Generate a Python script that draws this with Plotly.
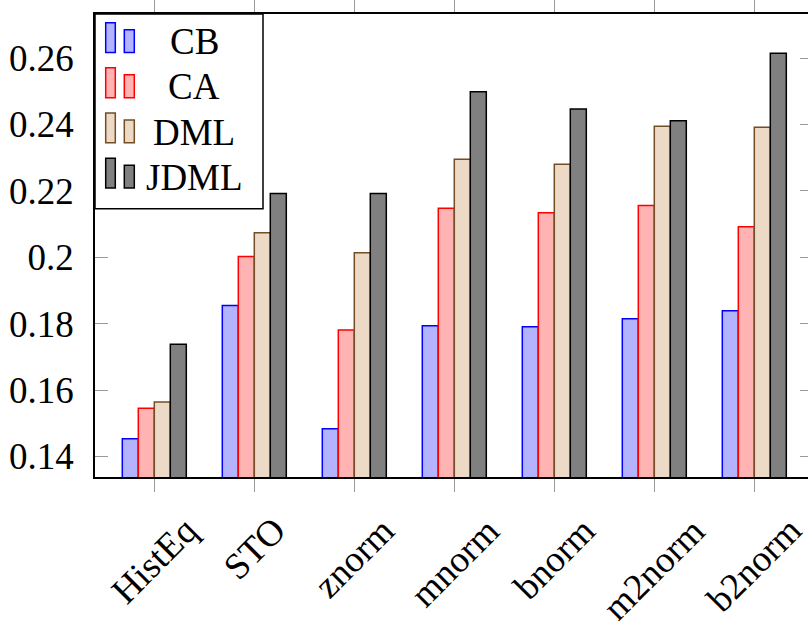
import plotly.graph_objects as go

# Normalisation methods on the x axis and the four compared approaches
methods = ["HistEq", "STO", "znorm", "mnorm", "bnorm", "m2norm", "b2norm"]
cb = [0.1453, 0.1855, 0.1483, 0.1794, 0.1791, 0.1815, 0.1839]
ca = [0.1545, 0.2002, 0.1781, 0.2148, 0.2134, 0.2156, 0.2092]
dml = [0.1564, 0.2074, 0.2014, 0.2295, 0.2280, 0.2395, 0.2392]
jdml = [0.1738, 0.2192, 0.2192, 0.2499, 0.2447, 0.2411, 0.2615]

series_names = ["CB", "CA", "DML", "JDML"]
y_ticks = [0.14, 0.16, 0.18, 0.20, 0.22, 0.24, 0.26]
y_tick_text = ["0.14", "0.16", "0.18", "0.2", "0.22", "0.24", "0.26"]

FONT = "Liberation Serif, serif"
FS = 37

W, H = 808, 621
L, T, R, B = 95, 14, 808, 477.3  # plot area in pixels

styles = [
    dict(fill="#b3b3ff", line="#0000ff"),
    dict(fill="#ffb3b3", line="#ff0000"),
    dict(fill="#ecd9c6", line="#734d26"),
    dict(fill="#808080", line="#000000"),
]

x_idx = list(range(len(methods)))

fig = go.Figure()
for name, vals, st in zip(series_names, [cb, ca, dml, jdml], styles):
    fig.add_trace(go.Bar(
        x=x_idx, y=vals, name=name,
        marker=dict(color=st["fill"], line=dict(color=st["line"], width=1.5)),
        showlegend=False,
    ))


def px_x(x):
    return (x - L) / (R - L)


def px_y(y):
    return (B - y) / (B - T)


shapes = []
annotations = []

# legend frame in the upper-left corner of the axes
shapes.append(dict(type="rect", xref="paper", yref="paper",
                   x0=px_x(95), x1=px_x(263), y0=px_y(209), y1=px_y(14),
                   line=dict(color="black", width=1.5), fillcolor="white",
                   layer="above"))
entry_top = 22.7
entry_step = 45.2
for i, (name, st) in enumerate(zip(series_names, styles)):
    top = entry_top + i * entry_step
    bottom = top + 29.8
    for (xa, xb, t) in [(105.7, 115.3, top), (124.3, 134.3, top + 7)]:
        shapes.append(dict(type="rect", xref="paper", yref="paper",
                           x0=px_x(xa), x1=px_x(xb), y0=px_y(bottom), y1=px_y(t),
                           line=dict(color=st["line"], width=1.5),
                           fillcolor=st["fill"], layer="above"))
    annotations.append(dict(text=name, xref="paper", yref="paper",
                            x=px_x(194), y=px_y(top + 19), xanchor="center",
                            yanchor="middle", showarrow=False,
                            font=dict(family=FONT, size=FS, color="black")))

# rotated category labels below the axis
for i, m in enumerate(methods):
    annotations.append(dict(text=m, x=i, xref="x", y=0, yref="paper",
                            xanchor="center", yanchor="top", yshift=-30,
                            textangle=-45, showarrow=False,
                            font=dict(family=FONT, size=FS, color="black")))

fig.update_layout(
    width=W, height=H,
    margin=dict(l=L, r=W - R, t=T, b=H - B, pad=0),
    plot_bgcolor="white", paper_bgcolor="white",
    barmode="group", bargap=0.36, bargroupgap=0,
    font=dict(family=FONT, size=FS, color="black"),
    shapes=shapes, annotations=annotations,
    xaxis=dict(range=[-0.593, 6.537], tickvals=x_idx, showticklabels=False,
               ticks="outside", ticklen=13, tickwidth=1, tickcolor="#999999",
               showline=True, linecolor="black", linewidth=1.5,
               mirror="allticks", showgrid=False, zeroline=False),
    yaxis=dict(range=[0.1338, 0.2733], tickvals=y_ticks, ticktext=y_tick_text,
               ticks="inside", ticklen=13, tickwidth=1, tickcolor="#999999",
               showline=True, linecolor="black", linewidth=1.5, mirror=False,
               ticklabelstandoff=12, showgrid=False, zeroline=False,
               tickfont=dict(family=FONT, size=FS, color="black")),
    yaxis2=dict(range=[0.1338, 0.2733], overlaying="y", side="right",
                tickvals=y_ticks, showticklabels=False, ticks="inside",
                ticklen=8, tickwidth=1, tickcolor="#999999", showline=False,
                showgrid=False, zeroline=False),
)
# invisible trace so the right-hand axis gets drawn
fig.add_trace(go.Scatter(x=[None], y=[None], yaxis="y2", showlegend=False,
                         hoverinfo="skip"))

fig.write_html("out.html")
